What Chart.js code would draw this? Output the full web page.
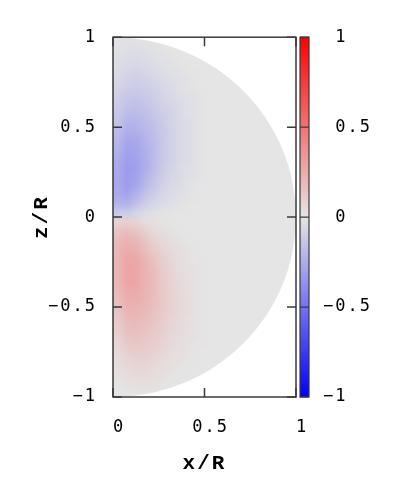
<!DOCTYPE html>
<html>
<head>
<meta charset="utf-8">
<script src="https://cdn.jsdelivr.net/npm/chart.js@4.4.1/dist/chart.umd.min.js"></script>
<style>
    html, body { margin: 0; padding: 0; background: #fff; }
    canvas { display: block; }
</style>
</head>
<body>
<canvas id="grafica" width="403" height="477"></canvas>
<script>
// centres of the map cells along x/R
const xCentros = [0.025, 0.075, 0.125, 0.175, 0.225, 0.275, 0.325, 0.375, 0.425, 0.475,
                  0.525, 0.575, 0.625, 0.675, 0.725, 0.775, 0.825, 0.875, 0.925, 0.975];

// centres of the map cells along z/R (top row first)
const zCentros = [0.975, 0.925, 0.875, 0.825, 0.775, 0.725, 0.675, 0.625, 0.575, 0.525,
                  0.475, 0.425, 0.375, 0.325, 0.275, 0.225, 0.175, 0.125, 0.075, 0.025,
                  -0.025, -0.075, -0.125, -0.175, -0.225, -0.275, -0.325, -0.375, -0.425, -0.475,
                  -0.525, -0.575, -0.625, -0.675, -0.725, -0.775, -0.825, -0.875, -0.925, -0.975];

// map value of every cell, one row per z centre
const valores = [
    [-.01,-.02,-.02,-.01, 0, 0, 0, 0, 0, 0, 0,0,0,0,0,0,0,0,0,0],
    [-.02,-.03,-.03,-.03,-.02,-.01, 0, 0, 0, 0, 0,0,0,0,0,0,0,0,0,0],
    [-.03,-.04,-.05,-.04,-.03,-.02,-.01, 0, 0, 0, 0,0,0,0,0,0,0,0,0,0],
    [-.04,-.06,-.07,-.06,-.04,-.03,-.02,-.01, 0, 0, 0,0,0,0,0,0,0,0,0,0],
    [-.05,-.08,-.09,-.08,-.06,-.04,-.03,-.02,-.01, 0, 0,0,0,0,0,0,0,0,0,0],
    [-.07,-.10,-.11,-.10,-.08,-.06,-.04,-.02,-.01, 0, 0,0,0,0,0,0,0,0,0,0],
    [-.09,-.13,-.13,-.12,-.10,-.07,-.05,-.03,-.02,-.01, 0,0,0,0,0,0,0,0,0,0],
    [-.11,-.15,-.16,-.14,-.11,-.08,-.06,-.04,-.02,-.01, 0,0,0,0,0,0,0,0,0,0],
    [-.13,-.18,-.18,-.16,-.13,-.10,-.07,-.04,-.02,-.01, 0,0,0,0,0,0,0,0,0,0],
    [-.15,-.21,-.21,-.18,-.15,-.11,-.07,-.05,-.03,-.01, 0,0,0,0,0,0,0,0,0,0],
    [-.18,-.24,-.23,-.20,-.16,-.12,-.08,-.05,-.03,-.01, 0,0,0,0,0,0,0,0,0,0],
    [-.20,-.27,-.26,-.22,-.17,-.12,-.08,-.05,-.03,-.01, 0,0,0,0,0,0,0,0,0,0],
    [-.22,-.29,-.28,-.23,-.18,-.12,-.08,-.05,-.03,-.01, 0,0,0,0,0,0,0,0,0,0],
    [-.24,-.31,-.29,-.24,-.18,-.12,-.08,-.05,-.03,-.01, 0,0,0,0,0,0,0,0,0,0],
    [-.25,-.32,-.30,-.24,-.17,-.11,-.07,-.04,-.02,-.01, 0,0,0,0,0,0,0,0,0,0],
    [-.26,-.32,-.29,-.22,-.15,-.10,-.06,-.04,-.02,-.01, 0,0,0,0,0,0,0,0,0,0],
    [-.26,-.31,-.27,-.19,-.13,-.08,-.05,-.03,-.01, 0, 0,0,0,0,0,0,0,0,0,0],
    [-.25,-.28,-.22,-.15,-.10,-.06,-.04,-.02,-.01, 0, 0,0,0,0,0,0,0,0,0,0],
    [-.21,-.22,-.16,-.10,-.06,-.04,-.02,-.01, 0, 0, 0,0,0,0,0,0,0,0,0,0],
    [-.12,-.11,-.07,-.04,-.02,-.01, 0, 0, 0, 0, 0,0,0,0,0,0,0,0,0,0],
    [ .07, .09, .07, .04, .02, .01, 0, 0, 0, 0, 0,0,0,0,0,0,0,0,0,0],
    [ .14, .17, .14, .09, .05, .03, .01, 0, 0, 0, 0,0,0,0,0,0,0,0,0,0],
    [ .18, .22, .19, .13, .08, .05, .03, .01, 0, 0, 0,0,0,0,0,0,0,0,0,0],
    [ .20, .25, .23, .17, .11, .07, .04, .02, .01, 0, 0,0,0,0,0,0,0,0,0,0],
    [ .21, .27, .26, .20, .14, .09, .05, .03, .01, 0, 0,0,0,0,0,0,0,0,0,0],
    [ .21, .28, .27, .22, .16, .10, .06, .03, .02, .01, 0,0,0,0,0,0,0,0,0,0],
    [ .21, .28, .27, .22, .17, .11, .07, .04, .02, .01, 0,0,0,0,0,0,0,0,0,0],
    [ .20, .27, .27, .22, .17, .12, .07, .04, .02, .01, 0,0,0,0,0,0,0,0,0,0],
    [ .18, .25, .25, .21, .17, .12, .08, .05, .02, .01, 0,0,0,0,0,0,0,0,0,0],
    [ .16, .23, .23, .20, .16, .12, .08, .05, .03, .01, 0,0,0,0,0,0,0,0,0,0],
    [ .14, .21, .21, .19, .15, .11, .08, .05, .03, .01, 0,0,0,0,0,0,0,0,0,0],
    [ .12, .18, .19, .17, .14, .10, .07, .04, .02, .01, 0,0,0,0,0,0,0,0,0,0],
    [ .10, .16, .17, .15, .12, .09, .06, .04, .02, .01, 0,0,0,0,0,0,0,0,0,0],
    [ .08, .13, .14, .13, .11, .08, .05, .03, .02, .01, 0,0,0,0,0,0,0,0,0,0],
    [ .06, .11, .12, .11, .09, .07, .04, .03, .01, 0, 0,0,0,0,0,0,0,0,0,0],
    [ .04, .08, .09, .09, .07, .05, .03, .02, .01, 0, 0,0,0,0,0,0,0,0,0,0],
    [ .03, .06, .07, .07, .05, .04, .02, .01, 0, 0, 0,0,0,0,0,0,0,0,0,0],
    [ .02, .04, .05, .05, .04, .02, .01, 0, 0, 0, 0,0,0,0,0,0,0,0,0,0],
    [ .01, .02, .03, .03, .02, .01, 0, 0, 0, 0, 0,0,0,0,0,0,0,0,0,0],
    [ 0, .01, .01, .01, .01, 0, 0, 0, 0, 0, 0,0,0,0,0,0,0,0,0,0]
];

const xTicks = [0, 0.5, 1];
const zTicks = [-1, -0.5, 0, 0.5, 1];
const barraTicks = [-1, -0.5, 0, 0.5, 1];
const rangoColor = [-1, 1];

// palette: blue (-1) -> light gray (0) -> red (+1)
const gris = [229, 229, 229];
const azul = [0, 0, 255];
const rojo = [255, 0, 0];

function colorDe(v) {
    let t = Math.max(-1, Math.min(1, v));
    let fin = t < 0 ? azul : rojo;
    t = Math.abs(t);
    return gris.map((g, k) => Math.round(g + (fin[k] - g) * t));
}

function rgb(c) {
    return 'rgb(' + c[0] + ',' + c[1] + ',' + c[2] + ')';
}

function etiqueta(v) {
    return v < 0 ? '\u2212' + String(-v) : String(v);
}

const tinta = '#3a3a3a';
const fuenteTicks = { family: 'DejaVu Sans Mono', size: 17 };
const fuenteTitulo = { family: 'Liberation Mono', size: 21, weight: 'bold' };

const mapaCalor = {
    id: 'mapaCalor',
    beforeDraw(chart) {
        chart.ctx.letterSpacing = '2px';
    },
    beforeDatasetsDraw(chart) {
        const ctx = chart.ctx;
        const xs = chart.scales.x, ys = chart.scales.y;
        const nx = xCentros.length, nz = zCentros.length;

        // one pixel per cell, scaled up afterwards
        let celdas = document.createElement('canvas');
        celdas.width = nx;
        celdas.height = nz;
        let cctx = celdas.getContext('2d');
        let img = cctx.createImageData(nx, nz);
        for (let j = 0; j < nz; j++) {
            for (let i = 0; i < nx; i++) {
                let c = colorDe(valores[j][i]);
                let k = (j * nx + i) * 4;
                img.data[k] = c[0];
                img.data[k + 1] = c[1];
                img.data[k + 2] = c[2];
                img.data[k + 3] = 255;
            }
        }
        cctx.putImageData(img, 0, 0);

        let dx = (xCentros[1] - xCentros[0]) / 2;
        let dz = (zCentros[0] - zCentros[1]) / 2;
        let izq = xs.getPixelForValue(xCentros[0] - dx);
        let der = xs.getPixelForValue(xCentros[nx - 1] + dx);
        let arr = ys.getPixelForValue(zCentros[0] + dz);
        let aba = ys.getPixelForValue(zCentros[nz - 1] - dz);

        // only the half disk r <= 1 holds data
        let cx = xs.getPixelForValue(0), cy = ys.getPixelForValue(0);
        let rx = xs.getPixelForValue(1) - cx, ry = cy - ys.getPixelForValue(1);

        ctx.save();
        ctx.beginPath();
        ctx.ellipse(cx, cy, rx, ry, 0, -Math.PI / 2, Math.PI / 2);
        ctx.closePath();
        ctx.clip();
        ctx.imageSmoothingEnabled = true;
        ctx.drawImage(celdas, izq, arr, der - izq, aba - arr);
        ctx.restore();
    },
    afterDatasetsDraw(chart) {
        const ctx = chart.ctx;
        const area = chart.chartArea;
        const xs = chart.scales.x, ys = chart.scales.y, cb = chart.scales.barra;
        const largo = 9;

        ctx.save();
        ctx.strokeStyle = tinta;
        ctx.lineWidth = 1.5;

        // inward tick marks on all four sides
        ctx.beginPath();
        xTicks.forEach(v => {
            let px = xs.getPixelForValue(v);
            ctx.moveTo(px, area.bottom); ctx.lineTo(px, area.bottom - largo);
            ctx.moveTo(px, area.top); ctx.lineTo(px, area.top + largo);
        });
        zTicks.forEach(v => {
            let py = ys.getPixelForValue(v);
            ctx.moveTo(area.left, py); ctx.lineTo(area.left + largo, py);
            ctx.moveTo(area.right, py); ctx.lineTo(area.right - largo, py);
        });
        ctx.stroke();

        ctx.strokeRect(area.left, area.top, area.right - area.left, area.bottom - area.top);

        // colour bar
        let bx = cb.left + 4, bw = 9;
        let yArr = cb.getPixelForValue(rangoColor[1]);
        let yAba = cb.getPixelForValue(rangoColor[0]);
        let grad = ctx.createLinearGradient(0, yArr, 0, yAba);
        grad.addColorStop(0, rgb(colorDe(rangoColor[1])));
        grad.addColorStop(0.5, rgb(colorDe(0)));
        grad.addColorStop(1, rgb(colorDe(rangoColor[0])));
        ctx.fillStyle = grad;
        ctx.fillRect(bx, yArr, bw, yAba - yArr);

        ctx.lineWidth = 1.2;
        ctx.beginPath();
        barraTicks.forEach(v => {
            let py = cb.getPixelForValue(v);
            ctx.moveTo(bx, py); ctx.lineTo(bx + bw, py);
        });
        ctx.stroke();
        ctx.strokeRect(bx, yArr, bw, yAba - yArr);
        ctx.restore();
    }
};

// cell centres as scatter points (invisible, the plugin paints the map)
let puntos = [];
for (let j = 0; j < zCentros.length; j++) {
    for (let i = 0; i < xCentros.length; i++) {
        puntos.push({ x: xCentros[i], y: zCentros[j], v: valores[j][i] });
    }
}

let ctx = document.getElementById('grafica').getContext('2d');

let grafica = new Chart(ctx, {
    type: 'scatter',
    data: {
        datasets: [{
            label: 'campo',
            data: puntos,
            pointRadius: 0,
            pointHoverRadius: 0
        }]
    },
    options: {
        responsive: false,
        devicePixelRatio: 1,
        animation: false,
        events: [],
        layout: { padding: { top: 33, left: 0, right: 0, bottom: 0 }, autoPadding: false },
        plugins: {
            legend: { display: false },
            tooltip: { enabled: false }
        },
        scales: {
            x: {
                type: 'linear',
                position: 'bottom',
                min: 0,
                max: 1,
                afterBuildTicks: s => { s.ticks = xTicks.map(v => ({ value: v })); },
                afterFit: s => { s.height = 80; },
                grid: { display: false, drawTicks: false },
                border: { display: false },
                ticks: {
                    autoSkip: false,
                    maxRotation: 0,
                    padding: 20,
                    color: '#000',
                    font: fuenteTicks,
                    callback: v => ' ' + etiqueta(v)
                },
                title: {
                    display: true,
                    text: 'x/R',
                    color: '#000',
                    font: fuenteTitulo,
                    padding: { top: 0, bottom: 1 }
                }
            },
            y: {
                type: 'linear',
                position: 'left',
                min: -1,
                max: 1,
                afterBuildTicks: s => { s.ticks = zTicks.map(v => ({ value: v })); },
                afterFit: s => { s.width = 113; },
                grid: { display: false, drawTicks: false },
                border: { display: false },
                ticks: {
                    autoSkip: false,
                    padding: 16,
                    color: '#000',
                    font: fuenteTicks,
                    callback: v => etiqueta(v)
                },
                title: {
                    display: true,
                    text: 'z/R',
                    color: '#000',
                    font: fuenteTitulo,
                    padding: { top: 29, bottom: 0 }
                }
            },
            barra: {
                type: 'linear',
                position: 'right',
                min: rangoColor[0],
                max: rangoColor[1],
                afterBuildTicks: s => { s.ticks = barraTicks.map(v => ({ value: v })); },
                afterFit: s => { s.width = 107; },
                grid: { display: false, drawTicks: false },
                border: { display: false },
                ticks: {
                    autoSkip: false,
                    padding: 27,
                    color: '#000',
                    font: fuenteTicks,
                    callback: v => (v < 0 ? '' : ' ') + etiqueta(v)
                }
            }
        }
    },
    plugins: [mapaCalor]
});
</script>
</body>
</html>
